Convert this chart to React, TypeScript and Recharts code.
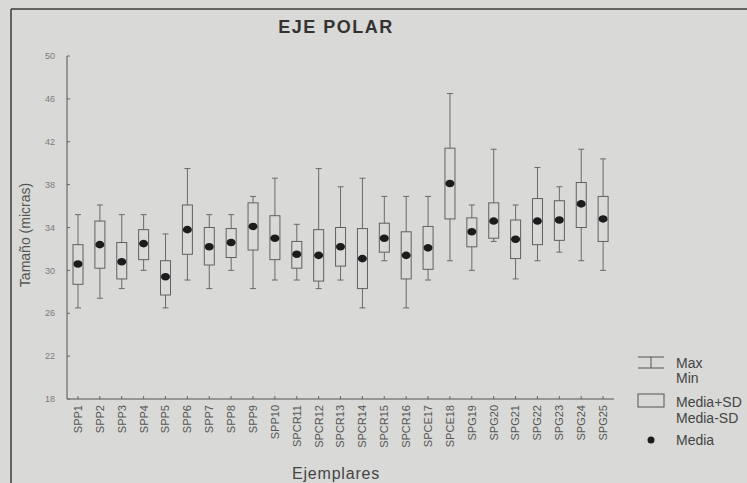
import React from 'react';
import { ComposedChart, Bar, Scatter, XAxis, YAxis } from 'recharts';

const categories = ['SPP1','SPP2','SPP3','SPP4','SPP5','SPP6','SPP7','SPP8','SPP9','SPP10','SPCR11','SPCR12','SPCR13','SPCR14','SPCR15','SPCR16','SPCE17','SPCE18','SPG19','SPG20','SPG21','SPG22','SPG23','SPG24','SPG25'];
const maxVals = [35.2,36.1,35.2,35.2,33.4,39.5,35.2,35.2,36.9,38.6,34.3,39.5,37.8,38.6,36.9,36.9,36.9,46.5,36.1,41.3,36.1,39.6,37.8,41.3,40.4];
const sdHigh = [32.4,34.6,32.6,33.8,30.9,36.1,34.0,33.9,36.3,35.1,32.7,33.8,34.0,33.9,34.4,33.6,34.1,41.4,34.9,36.3,34.7,36.7,36.5,38.2,36.9];
const means = [30.6,32.4,30.8,32.5,29.4,33.8,32.2,32.6,34.1,33.0,31.5,31.4,32.2,31.1,33.0,31.4,32.1,38.1,33.6,34.6,32.9,34.6,34.7,36.2,34.8];
const sdLow = [28.7,30.2,29.2,31.0,27.7,31.5,30.5,31.2,31.9,31.0,30.2,29.0,30.4,28.3,31.7,29.2,30.1,34.8,32.2,33.0,31.1,32.4,32.8,34.0,32.7];
const minVals = [26.5,27.4,28.3,30.0,26.5,29.1,28.3,30.0,28.3,29.1,29.1,28.3,29.1,26.5,30.9,26.5,29.1,30.9,30.0,32.7,29.2,30.9,31.7,30.9,30.0];
const yTicks = [18,22,26,30,34,38,42,46,50];

const data = categories.map((name, i) => ({
  name,
  max: maxVals[i],
  hi: sdHigh[i],
  mean: means[i],
  lo: sdLow[i],
  min: minVals[i],
}));

const FONT = '"Liberation Sans", Arial, sans-serif';

const BoxShape = (props: any) => {
  const { x, y, width, height, payload } = props;
  if (!payload || width == null) return null;
  const top = Math.min(y, y + height);
  const h = Math.abs(height);
  const ppu = h / (payload.max - payload.min);
  const py = (v: number) => top + (payload.max - v) * ppu;
  const cx = x + width / 2;
  const cap = 3;
  return (
    <g>
      <line x1={cx} x2={cx} y1={py(payload.max)} y2={py(payload.hi)} stroke="#6a6a6a" strokeWidth={1} />
      <line x1={cx} x2={cx} y1={py(payload.lo)} y2={py(payload.min)} stroke="#6a6a6a" strokeWidth={1} />
      <line x1={cx - cap} x2={cx + cap} y1={py(payload.max)} y2={py(payload.max)} stroke="#6a6a6a" strokeWidth={1} />
      <line x1={cx - cap} x2={cx + cap} y1={py(payload.min)} y2={py(payload.min)} stroke="#6a6a6a" strokeWidth={1} />
      <rect x={x} y={py(payload.hi)} width={width} height={py(payload.lo) - py(payload.hi)} fill="none" stroke="#606060" strokeWidth={1} />
    </g>
  );
};

const MeanDot = (props: any) => {
  const { cx, cy } = props;
  if (cx == null || cy == null) return null;
  return <ellipse cx={cx} cy={cy} rx={4.5} ry={3.8} fill="#1c1c1c" />;
};

const XTick = (props: any) => {
  const { x, y, payload } = props;
  return (
    <text
      x={x}
      y={y}
      transform={`rotate(-90, ${x}, ${y})`}
      textAnchor="end"
      dy="0.36em"
      fontSize={11}
      fill="#555"
      fontFamily={FONT}
    >
      {payload.value}
    </text>
  );
};

const EmptyTick = () => <g />;

export default function App() {
  return (
    <div style={{ position: 'absolute', left: 0, top: 0, width: 747, height: 483, background: '#d9d9d7', overflow: 'hidden' }}>
      <ComposedChart
        width={747}
        height={483}
        data={data}
        margin={{ top: 56, right: 133, bottom: 0, left: 0 }}
        style={{ fontFamily: FONT }}
      >
        <XAxis
          dataKey="name"
          xAxisId={0}
          height={84}
          interval={0}
          tickSize={-3}
          tickMargin={9}
          tick={<XTick />}
          axisLine={{ stroke: '#555', strokeWidth: 1 }}
          tickLine={{ stroke: '#666' }}
          label={(p: any) => (
            <text x={336} y={479} textAnchor="middle" fontSize={16} letterSpacing={0.8} fill="#444" fontFamily={FONT}>Ejemplares</text>
          )}
        />
        <XAxis
          dataKey="name"
          xAxisId="top"
          orientation="top"
          height={0}
          interval={0}
          tickSize={-3}
          tick={<EmptyTick />}
          axisLine={{ stroke: '#555', strokeWidth: 1 }}
          tickLine={{ stroke: '#666' }}
        />
        <YAxis
          yAxisId={0}
          width={67}
          domain={[18, 50]}
          ticks={yTicks}
          allowDataOverflow
          interval={0}
          tickSize={-3}
          tickMargin={15}
          tick={{ fontSize: 9, fill: '#7a7a7a' }}
          axisLine={{ stroke: '#555', strokeWidth: 1 }}
          tickLine={{ stroke: '#666' }}
          label={(p: any) => (
            <text x={25} y={235} transform="rotate(-90, 25, 235)" textAnchor="middle" dy="0.35em" fontSize={14} fill="#555" fontFamily={FONT}>Tamaño (micras)</text>
          )}
        />
        <YAxis
          yAxisId="right"
          orientation="right"
          width={0}
          domain={[18, 50]}
          ticks={yTicks}
          allowDataOverflow
          interval={0}
          tickSize={-3}
          tick={<EmptyTick />}
          axisLine={{ stroke: '#555', strokeWidth: 1 }}
          tickLine={{ stroke: '#666' }}
        />
        <Bar
          dataKey={(d: any) => [d.min, d.max]}
          xAxisId={0}
          yAxisId={0}
          barSize={10}
          shape={<BoxShape />}
          isAnimationActive={false}
        />
        <Scatter
          dataKey="mean"
          xAxisId={0}
          yAxisId={0}
          shape={<MeanDot />}
          isAnimationActive={false}
        />
      </ComposedChart>
      <svg width={747} height={483} style={{ position: 'absolute', left: 0, top: 0, pointerEvents: 'none' }}>
        <line x1={11} x2={11} y1={9} y2={483} stroke="#3a3a3a" strokeWidth={1.5} />
        <line x1={11} x2={747} y1={9} y2={9} stroke="#3a3a3a" strokeWidth={1.5} />
        <text x={336} y={33} textAnchor="middle" fontSize={18} fontWeight="bold" letterSpacing={1.5} fill="#333" fontFamily={FONT}>EJE POLAR</text>
        <g stroke="#555" strokeWidth={1} fill="none">
          <line x1={638} x2={664} y1={357} y2={357} />
          <line x1={638} x2={664} y1={368} y2={368} />
          <line x1={651} x2={651} y1={357} y2={368} />
          <rect x={638} y={394} width={26} height={13} />
        </g>
        <circle cx={651} cy={440} r={3.5} fill="#1c1c1c" />
        <g fontSize={14} fill="#444" fontFamily={FONT}>
          <text x={676} y={368}>Max</text>
          <text x={676} y={383}>Min</text>
          <text x={676} y={407}>Media+SD</text>
          <text x={676} y={423}>Media-SD</text>
          <text x={676} y={445}>Media</text>
        </g>
      </svg>
    </div>
  );
}
